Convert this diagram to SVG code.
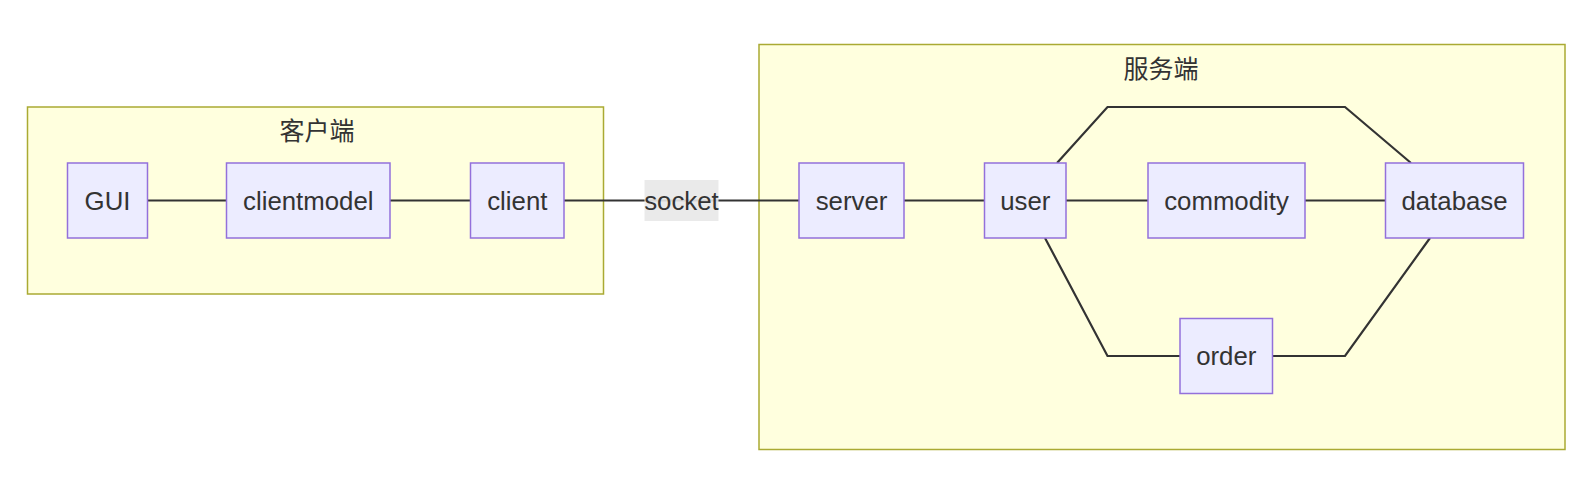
<svg xmlns="http://www.w3.org/2000/svg" width="1580" height="500" viewBox="0 0 1580 500">
<style>
.cluster{fill:#ffffde;stroke:#aaaa33;stroke-width:1.5}
.node rect{fill:#ececff;stroke:#9370db;stroke-width:1.5}
.node text,.lbl text{font-family:"Liberation Sans",Arial,sans-serif;font-size:25.8px;fill:#333;text-anchor:middle;dominant-baseline:central}
.ctitle{font-family:"Noto Sans CJK SC","Liberation Sans",sans-serif;font-size:25px;fill:#333;text-anchor:middle;dominant-baseline:central}
.edges path{fill:none;stroke:#333;stroke-width:2.2}
.lbl rect{fill:#e8e8e8;opacity:0.9}
</style>
<rect width="1580" height="500" fill="#ffffff"/>
<g id="cluster-client">
<rect class="cluster" x="27.5" y="107" width="576" height="187"/>
<text class="ctitle" x="317" y="129">客户端</text>
</g>
<g id="cluster-server">
<rect class="cluster" x="759" y="44.5" width="806" height="405"/>
<text class="ctitle" x="1161" y="67">服务端</text>
</g>
<g class="edges" id="edges">
<path d="M147,200.5 H226.5"/>
<path d="M390,200.5 H470.5"/>
<path d="M564,200.5 H799"/>
<path d="M904,200.5 H984.5"/>
<path d="M1066,200.5 H1148"/>
<path d="M1305,200.5 H1385.5"/>
<path d="M1057,163 L1107.5,107 H1345 L1411,163"/>
<path d="M1045,238 L1107.5,356 H1180"/>
<path d="M1272.5,356 H1345 L1430,238"/>
<g class="lbl" id="label-socket">
<rect x="644.5" y="180" width="74" height="41"/>
<text x="681.5" y="200.5">socket</text>
</g>
</g>
<g class="node" id="GUI"><rect x="67.5" y="163" width="80" height="75"/><text x="107.5" y="200.5">GUI</text></g>
<g class="node" id="clientmodel"><rect x="226.5" y="163" width="163.5" height="75"/><text x="308.3" y="200.5">clientmodel</text></g>
<g class="node" id="client"><rect x="470.5" y="163" width="93.5" height="75"/><text x="517.3" y="200.5">client</text></g>
<g class="node" id="server"><rect x="799" y="163" width="105" height="75"/><text x="851.5" y="200.5">server</text></g>
<g class="node" id="user"><rect x="984.5" y="163" width="81.5" height="75"/><text x="1025.3" y="200.5">user</text></g>
<g class="node" id="commodity"><rect x="1148" y="163" width="157" height="75"/><text x="1226.5" y="200.5">commodity</text></g>
<g class="node" id="database"><rect x="1385.5" y="163" width="138" height="75"/><text x="1454.5" y="200.5">database</text></g>
<g class="node" id="order"><rect x="1180" y="318.5" width="92.5" height="75"/><text x="1226.3" y="356">order</text></g>
</svg>
